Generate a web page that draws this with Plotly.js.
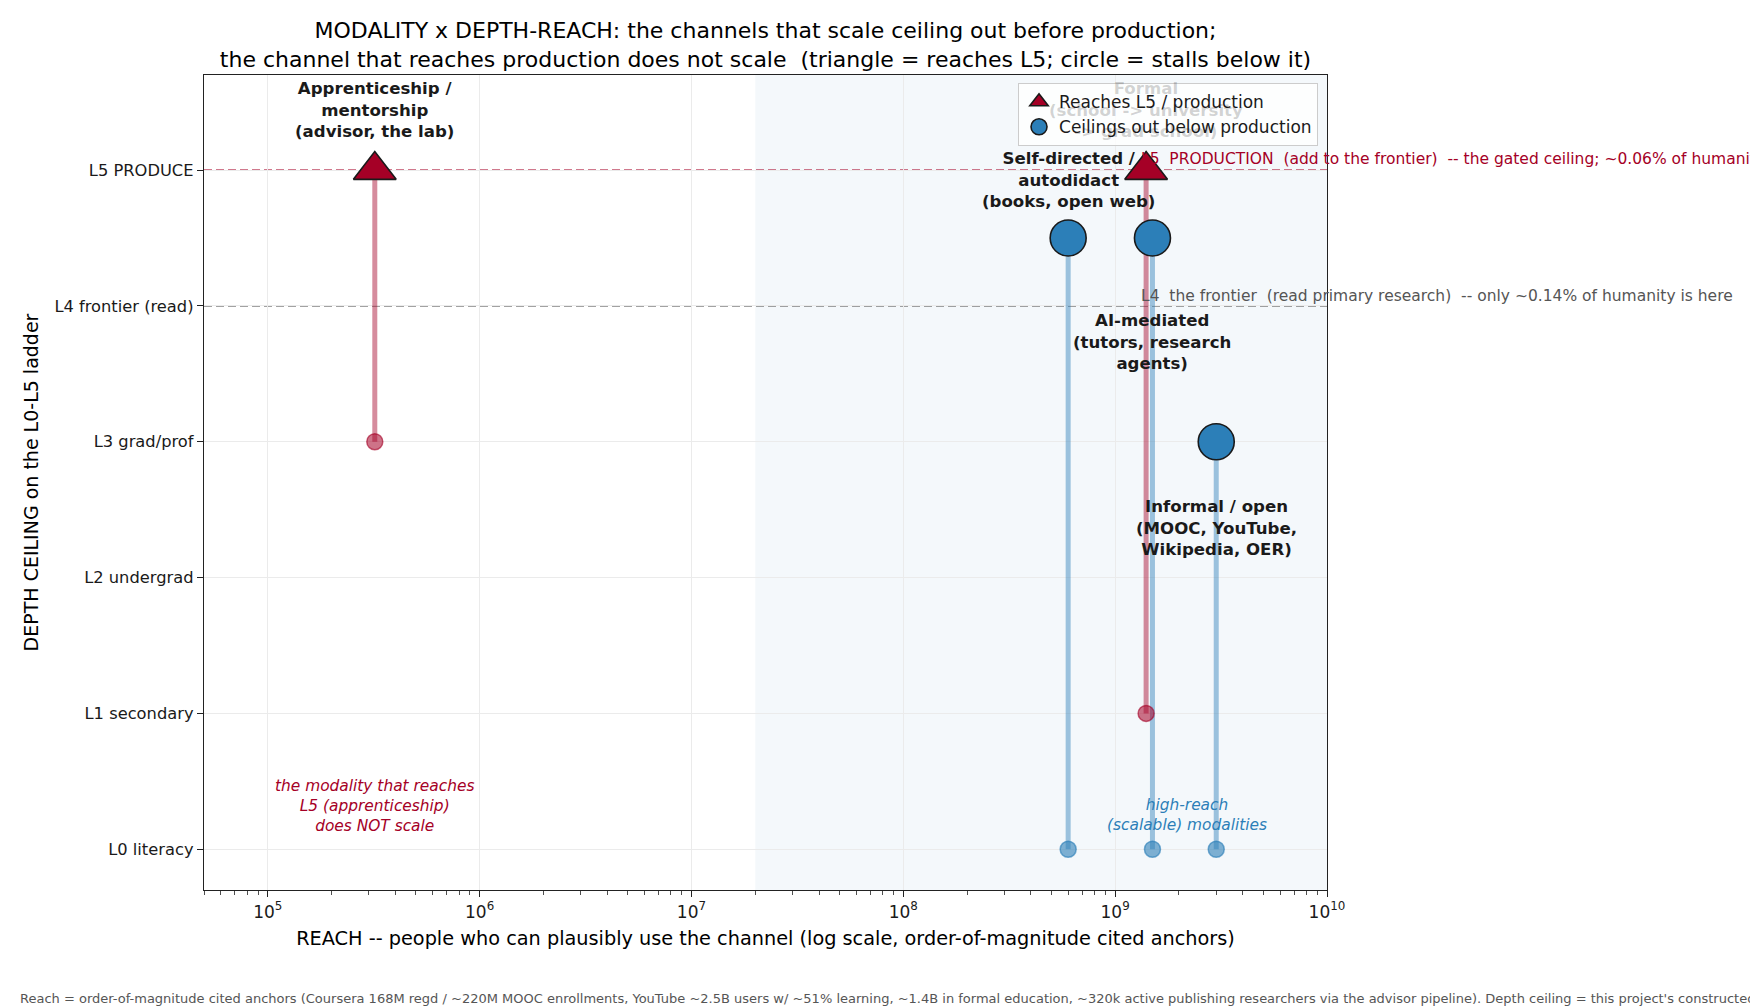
<!DOCTYPE html>
<html><head><meta charset="utf-8">
<script src="https://cdn.plot.ly/plotly-3.0.1.min.js"></script>
<style>html,body{margin:0;padding:0;background:#fff}#chart{width:1750px;height:1008px}</style>
</head><body><div id="chart"></div>
<script>
// ---------------- data ----------------
const modalities = ['Apprenticeship / mentorship', 'Formal', 'Self-directed / autodidact', 'AI-mediated', 'Informal / open'];
const labels = [
  'Apprenticeship /<br>mentorship<br>(advisor, the lab)',
  'Formal<br>(school -> university<br>-> grad school)',
  'Self-directed /<br>autodidact<br>(books, open web)',
  'AI-mediated<br>(tutors, research<br>agents)',
  'Informal / open<br>(MOOC, YouTube,<br>Wikipedia, OER)'
];
const reach = [3.2e5, 1.4e9, 6.0e8, 1.5e9, 3.0e9];
const floorLevel = [3, 1, 0, 0, 0];
const ceilingLevel = [5, 5, 4.5, 4.5, 3];
const levelTicks = [0, 1, 2, 3, 4, 5];
const levelLabels = ['L0 literacy', 'L1 secondary', 'L2 undergrad', 'L3 grad/prof', 'L4 frontier (read)', 'L5 PRODUCE'];
const xTicks = [1e5, 1e6, 1e7, 1e8, 1e9, 1e10];
const xTickText = xTicks.map(v => '10<sup>' + Math.round(Math.log10(v)) + '</sup>');
const scalableFrom = 2e7;
const L5 = 5, L4 = 4;

// ---------------- style ----------------
const RED = '#a50026', BLUE = '#2c7fb8', INK = '#1a1a1a';
const FONT = 'DejaVu Sans';
const labelShift = [60, 60, 58, -104, -86];   // px, vertical offset of each label from its ceiling marker
const reaches = ceilingLevel.map(c => c >= L5);

const traces = [];
// stems
reach.forEach((r, i) => {
  traces.push({
    x: [r, r], y: [floorLevel[i], ceilingLevel[i]], mode: 'lines', type: 'scatter',
    line: {color: reaches[i] ? 'rgba(165,0,38,0.45)' : 'rgba(44,127,184,0.45)', width: 5},
    showlegend: false, hoverinfo: 'skip'
  });
});
// floor markers
traces.push({
  x: reach, y: floorLevel, mode: 'markers', type: 'scatter', showlegend: false, hoverinfo: 'skip',
  marker: {size: 16,
    color: reaches.map(f => f ? 'rgba(165,0,38,0.55)' : 'rgba(44,127,184,0.6)'),
    line: {width: 1.5, color: reaches.map(f => f ? 'rgba(165,0,38,0.6)' : 'rgba(44,127,184,0.65)')}}
});
// ceiling markers
const idxUp = reach.map((_, i) => i).filter(i => reaches[i]);
const idxStall = reach.map((_, i) => i).filter(i => !reaches[i]);
traces.push({
  name: 'Reaches L5 / production', type: 'scatter', mode: 'markers',
  x: idxUp.map(i => reach[i]), y: idxUp.map(i => ceilingLevel[i]), text: idxUp.map(i => modalities[i]),
  marker: {symbol: 'triangle-up', size: 37, color: RED, line: {color: INK, width: 1.6}}
});
traces.push({
  name: 'Ceilings out below production', type: 'scatter', mode: 'markers',
  x: idxStall.map(i => reach[i]), y: idxStall.map(i => ceilingLevel[i]), text: idxStall.map(i => modalities[i]),
  marker: {symbol: 'circle', size: 36, color: BLUE, line: {color: INK, width: 1.6}}
});

// ---------------- annotations ----------------
const annotations = [];
reach.forEach((r, i) => {
  const hidden = (i === 1); // sits behind the legend box in the reference
  annotations.push({
    x: Math.log10(r), y: ceilingLevel[i], xref: 'x', yref: 'y', showarrow: false,
    text: '<b>' + labels[i] + '</b>', yshift: labelShift[i], xanchor: 'center', yanchor: 'middle',
    font: {family: FONT, size: 16.6, color: hidden ? 'rgba(26,26,26,0.2)' : INK}, align: 'center'
  });
});
annotations.push({
  x: Math.log10(reach[0]), y: 0.32, xref: 'x', yref: 'y', showarrow: false,
  text: '<i>the modality that reaches<br>L5 (apprenticeship)<br>does NOT scale</i>',
  font: {family: FONT, size: 15.4, color: RED}, align: 'center'
});
annotations.push({
  x: 9.337, y: 0.25, xref: 'x', yref: 'y', showarrow: false,
  text: '<i>high-reach<br>(scalable) modalities</i>',
  font: {family: FONT, size: 15.4, color: BLUE}, align: 'center'
});
annotations.push({
  x: 9.113, y: L5, xref: 'x', yref: 'y', showarrow: false, xanchor: 'left', yanchor: 'bottom', yshift: 0,
  text: 'L5  PRODUCTION  (add to the frontier)  -- the gated ceiling; ~0.06% of humanity',
  font: {family: FONT, size: 15.5, color: RED}
});
annotations.push({
  x: 9.113, y: L4, xref: 'x', yref: 'y', showarrow: false, xanchor: 'left', yanchor: 'bottom', yshift: -1,
  text: 'L4  the frontier  (read primary research)  -- only ~0.14% of humanity is here',
  font: {family: FONT, size: 15.5, color: '#555555'}
});
annotations.push({
  x: -0.1656, y: -0.1337, xref: 'paper', yref: 'paper', showarrow: false, xanchor: 'left', yanchor: 'middle',
  text: "Reach = order-of-magnitude cited anchors (Coursera 168M regd / ~220M MOOC enrollments, YouTube ~2.5B users w/ ~51% learning, ~1.4B in formal education, ~320k active publishing researchers via the advisor pipeline). Depth ceiling = this project's constructed L0-L5 ladder.",
  font: {family: FONT, size: 13, color: '#555555'}
});

// ---------------- shapes ----------------
const shapes = [
  {type: 'rect', xref: 'x', yref: 'paper', x0: scalableFrom, x1: 1e10, y0: 0, y1: 1,
   fillcolor: 'rgba(44,127,184,0.05)', line: {width: 0}, layer: 'below'},
  {type: 'line', xref: 'paper', yref: 'y', x0: 0, x1: 1, y0: L5, y1: L5,
   line: {color: 'rgba(165,0,38,0.7)', width: 1.7, dash: '8px,4px'}, layer: 'between'},
  {type: 'line', xref: 'paper', yref: 'y', x0: 0, x1: 1, y0: L4, y1: L4,
   line: {color: 'rgba(90,90,90,0.75)', width: 1.7, dash: '8px,4px'}, layer: 'between'}
];

const layout = {
  width: 1750, height: 1008,
  margin: {l: 204, r: 423, t: 75, b: 118},
  paper_bgcolor: '#ffffff', plot_bgcolor: '#ffffff',
  font: {family: FONT, color: INK},
  title: {
    text: 'MODALITY x DEPTH-REACH: the channels that scale ceiling out before production;<br>the channel that reaches production does not scale  (triangle = reaches L5; circle = stalls below it)',
    font: {family: FONT, size: 22, color: '#000'}, x: 0.5, xref: 'paper', xanchor: 'center',
    y: 0.962, yref: 'container', yanchor: 'top'
  },
  xaxis: {
    type: 'log', range: [Math.log10(5e4), 10], tickvals: xTicks, ticktext: xTickText,
    showline: true, mirror: true, linecolor: '#222', linewidth: 1.2,
    ticks: 'outside', ticklen: 6, tickwidth: 1, tickcolor: '#222',
    showgrid: true, gridcolor: '#ebebeb', gridwidth: 1, zeroline: false,
    tickfont: {family: FONT, size: 17, color: INK},
    minor: {ticks: 'outside', ticklen: 3.5, tickwidth: 0.8, tickcolor: '#222', dtick: 'D1', showgrid: false},
    title: {text: 'REACH -- people who can plausibly use the channel (log scale, order-of-magnitude cited anchors)',
            font: {family: FONT, size: 19.3, color: '#000'}, standoff: 10}
  },
  yaxis: {
    range: [-0.3, 5.7], tickvals: levelTicks, ticktext: levelLabels,
    showline: true, mirror: true, linecolor: '#222', linewidth: 1.2,
    ticks: 'outside', ticklen: 6, tickwidth: 1, tickcolor: '#222',
    showgrid: true, gridcolor: '#ebebeb', gridwidth: 1, zeroline: false,
    tickfont: {family: FONT, size: 16.3, color: INK},
    title: {text: 'DEPTH CEILING on the L0-L5 ladder', font: {family: FONT, size: 19, color: '#000'}, standoff: 10}
  },
  legend: {
    x: 0.992, xanchor: 'right', y: 0.99, yanchor: 'top',
    bgcolor: 'rgba(255,255,255,0.8)', bordercolor: '#cccccc', borderwidth: 1,
    font: {family: FONT, size: 17, color: INK}, tracegroupgap: 0
  },
  shapes: shapes,
  annotations: annotations,
  hovermode: false
};

Plotly.newPlot('chart', traces, layout, {displayModeBar: false, staticPlot: true});
</script>
</body></html>
